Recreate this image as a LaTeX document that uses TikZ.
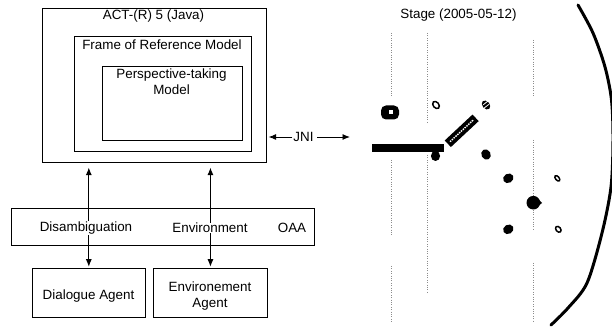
\documentclass[tikz,border=0pt]{standalone}
\usepackage{fontspec}
\setmainfont{Liberation Sans}
\usetikzlibrary{arrows.meta}
\begin{document}
\begin{tikzpicture}[x=1pt,y=-1pt,
  box/.style={draw=black,line width=0.9pt,inner sep=0pt,anchor=north west},
  txt/.style={font=\fontsize{13.4}{16}\selectfont,inner sep=1pt},
  wtxt/.style={txt,fill=white,inner sep=0.5pt},
  arr/.style={line width=0.9pt,-{Latex[length=7.5pt,width=6pt]}},
  darr/.style={line width=0.9pt,{Latex[length=7.5pt,width=6pt]}-{Latex[length=7.5pt,width=6pt]}},
  dots/.style={draw=black!45,line width=0.5pt,dash pattern=on 0.6pt off 1.8pt},
  openmark/.style={draw=black,line width=1.5pt}]
\useasboundingbox (0,0) rectangle (612,328);
% left architecture
\node[box,minimum width=224pt,minimum height=154pt] (act) at (41.7,8.3) {};
\node[box,minimum width=176.7pt,minimum height=114.7pt] (frame) at (74,36) {};
\node[box,minimum width=140.6pt,minimum height=74.3pt] (persp) at (101.7,65.7) {};
\node[txt] (actlbl) at (153.5,16.5) {ACT-(R) 5 (Java)};
\node[txt] (framelbl) at (162,44.5) {Frame of Reference Model};
\node[txt,align=center] (persplbl) at (171.5,82) {Perspective-taking\\Model};
\node[box,minimum width=303pt,minimum height=37pt] (oaa) at (11,207.7) {};
\node[box,minimum width=113.3pt,minimum height=48.7pt] (dlg) at (31.7,268) {};
\node[box,minimum width=114pt,minimum height=48.7pt] (env) at (153,268) {};
\draw[darr,shorten <=4.4pt,shorten >=1.3pt] (act.south -| dlg.north) -- (dlg.north);
\draw[darr,shorten <=4.4pt,shorten >=1.3pt] (act.south -| env.north) -- (env.north);
\node[wtxt] (disamb) at (86,228) {Disambiguation};
\node[wtxt] (envir) at (210,228) {Environment};
\node[txt] (oaalbl) at (292,228) {OAA};
\node[txt] (dlglbl) at (88.5,296) {Dialogue Agent};
\node[txt,align=center] (envlbl) at (210,296) {Environement\\Agent};
% JNI
\node[txt] (jni) at (303.5,137) {JNI};
\coordinate (stagein) at (350,137);
\draw[arr,shorten >=2pt] (jni.west) -- (jni.west -| act.east);
\draw[arr,shorten <=2.5pt] (jni.east) -- (stagein);
% stage
\node[txt] (stagelbl) at (458.5,15) {Stage (2005-05-12)};
\draw[dots] (391.5,33) -- (391.5,97);
\draw[dots] (391.5,160) -- (391.5,235);
\draw[dots] (391.5,266) -- (391.5,322);
\draw[dots] (427,33) -- (427,122);
\draw[dots] (427,155) -- (427,292);
\draw[dots] (533.3,40) -- (533.3,97);
\draw[dots] (533.3,140) -- (533.3,230);
\draw[dots] (533.3,263) -- (533.3,322);
% objects
\fill[rounded corners=5pt] (381,105.5) rectangle (399,119.5);
\fill[white] (388.5,110.5) rectangle (392.5,114.5);
\draw[openmark,rotate around={40:(436,105)}] (436,105) ellipse (2.8pt and 4pt);
\fill[rotate around={40:(486,105)}] (486,105) ellipse (3.6pt and 5pt);
\draw[white,line width=0.8pt] (483.2,104.8) -- (487.8,101.2);
\draw[white,line width=0.8pt] (484.2,108) -- (488.8,104.4);
\fill (372.3,144) rectangle (444.3,152);
\fill (435.5,156) ellipse (4.6pt and 5pt);
\begin{scope}[shift={(461.7,130.8)},rotate=43]
  \fill (-19,-4.5) rectangle (19,4.5);
  \draw[white,line width=1.4pt,dash pattern=on 1.5pt off 1pt] (-16,0) -- (16,0);
\end{scope}
\fill[rotate around={30:(486,154.5)}] (486,154.5) ellipse (4.6pt and 5.4pt);
\fill[rotate around={30:(508.3,178.3)}] (508.3,178.3) ellipse (5.4pt and 4.6pt);
\draw[openmark,rotate around={40:(557.3,178.3)}] (557.3,178.3) ellipse (1.8pt and 3.2pt);
\fill (533.3,202.7) circle (6.8pt);
\fill (538,199) -- (542,203) -- (537,207) -- cycle;
\fill[rotate around={30:(508.3,229.3)}] (508.3,229.3) ellipse (5.4pt and 4.6pt);
\draw[openmark,rotate around={40:(558.3,229.3)}] (558.3,229.3) ellipse (2.3pt and 3.3pt);
% arc
\draw[line width=3pt,line cap=round] plot[smooth] coordinates {(578,5) (593,33) (605,67) (611.5,100) (613,140) (611,187) (602,233) (587,283) (568,308) (551,325)};
\end{tikzpicture}
\end{document}
